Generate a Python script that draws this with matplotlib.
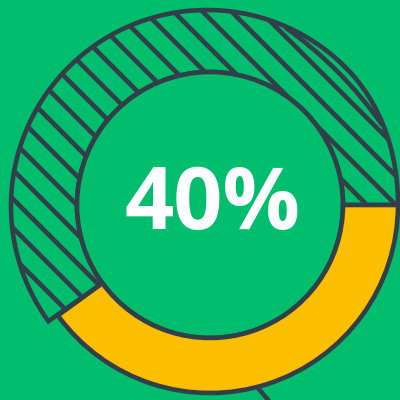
"""
进度环形图 - 40%
"""
import numpy as np
import matplotlib
matplotlib.use('Agg')
import matplotlib.pyplot as plt
from matplotlib.patches import Circle, PathPatch, Arc
from matplotlib.path import Path
from matplotlib.collections import LineCollection

plt.rcParams['font.family'] = ['Open Sans', 'DejaVu Sans']

# 数据
labels = ['完成', '剩余']
values = [40, 60]
center_label = '40%'

# 颜色
BG = '#00BE6E'
DARK = '#323E48'
YELLOW = '#FBBF00'
LW = 3.3

# 版面 (像素坐标, y 向上)
ci = (210, 195)          # 环中心
r_ring = 188             # 黄色段外半径
r_inner = 133            # 内圆半径
co = (207, 194)          # 阴影段外圆中心
r_outer = 196
hatch_step = 29
hatch_phase = 8

fig = plt.figure(figsize=(4, 4), dpi=100)
fig.patch.set_facecolor(BG)
ax = fig.add_axes([0, 0, 1, 1])
ax.set_facecolor(BG)

# 把手线 (在黄色段下面)
a = np.deg2rad(-75.5)
p0 = np.array([ci[0] + r_ring * np.cos(a), ci[1] + r_ring * np.sin(a)])
d = np.array([0.65, -0.76])
ax.plot([p0[0], p0[0] + 40 * d[0]], [p0[1], p0[1] + 40 * d[1]],
        color=DARK, linewidth=LW, solid_capstyle='butt', zorder=1)

wedges, _ = ax.pie(values, startangle=0, counterclock=False, radius=r_ring,
                   center=ci, colors=[YELLOW, 'none'],
                   wedgeprops=dict(width=r_ring - r_inner, edgecolor=DARK,
                                   linewidth=LW, joinstyle='miter'))
wedges[0].set_zorder(4)
wedges[1].set_edgecolor('none')

# 阴影段区域: 外缘从黄色段半径平滑过渡到外圆
span = 360 - values[0] / sum(values) * 360
theta = np.linspace(0, span, 300)
rad = np.deg2rad(theta)
w = np.clip(theta / 45, 0, 1)
w = w * w * (3 - 2 * w)
ox = (1 - w) * (ci[0] + r_ring * np.cos(rad)) + w * (co[0] + r_outer * np.cos(rad))
oy = (1 - w) * (ci[1] + r_ring * np.sin(rad)) + w * (co[1] + r_outer * np.sin(rad))
ix = ci[0] + r_inner * np.cos(rad[::-1])
iy = ci[1] + r_inner * np.sin(rad[::-1])
verts = list(zip(ox, oy)) + list(zip(ix, iy)) + [(ox[0], oy[0])]
codes = [Path.MOVETO] + [Path.LINETO] * (len(verts) - 2) + [Path.CLOSEPOLY]
hatch_patch = PathPatch(Path(verts, codes), facecolor='none', edgecolor=DARK,
                        linewidth=LW, zorder=3)
ax.add_patch(hatch_patch)

segs = []
for c in np.arange(-600, 900, hatch_step) + hatch_phase:
    # x - y_img = c  ->  x + y = c + 400
    segs.append([(-50, c + 450), (450, c - 50)])
lc = LineCollection(segs, colors=DARK, linewidths=LW, zorder=2)
lc.set_clip_path(hatch_patch)
ax.add_collection(lc)

# 透镜弧
ax.add_patch(Arc((52, 44), 806, 806, theta1=35.0, theta2=54.7,
                 color=DARK, linewidth=LW, zorder=3))

# 内圆
ax.add_patch(Circle(ci, r_inner, facecolor=BG, edgecolor=DARK, linewidth=LW, zorder=3))

ax.text(213, 194, center_label, ha='center', va='center', color='white',
        fontsize=62, fontweight='bold', zorder=5)

ax.set_xlim(0, 400)
ax.set_ylim(0, 400)
ax.set_aspect('equal')
ax.axis('off')

plt.savefig('out.png', dpi=100, facecolor=BG)
plt.close()
